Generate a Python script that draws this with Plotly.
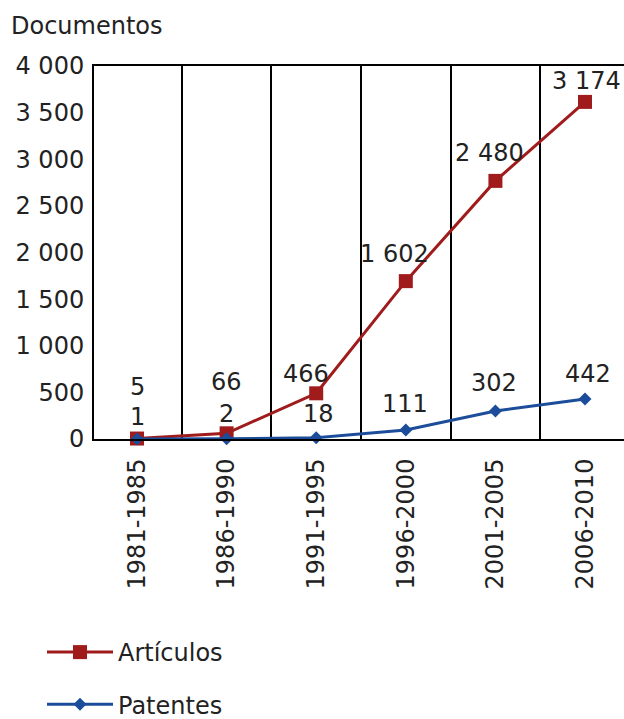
import plotly.graph_objects as go

categories = ["1981-1985", "1986-1990", "1991-1995", "1996-2000", "2001-2005", "2006-2010"]
# values
articulos_pos = [5, 61, 490, 1693, 2768, 3615]
patentes_pos = [1, 2, 14, 96, 300, 429]
# values printed as labels
articulos_lbl = [5, 66, 466, 1602, 2480, 3174]
patentes_lbl = [1, 2, 18, 111, 302, 442]
y_ticks = [0, 500, 1000, 1500, 2000, 2500, 3000, 3500, 4000]

RED = "#a01b1b"
BLUE = "#1c4d9b"
FONT = "DejaVu Sans"
FS = 24


def fmt(v):
    return f"{v:,}".replace(",", " ")


fig = go.Figure()
fig.add_trace(go.Scatter(
    x=categories, y=articulos_pos, name="Artículos", mode="lines+markers",
    line=dict(color=RED, width=3), marker=dict(symbol="square", size=14, color=RED),
    cliponaxis=False, legendgroup="a"))
fig.add_trace(go.Scatter(
    x=categories, y=patentes_pos, name="Patentes", mode="lines+markers",
    line=dict(color=BLUE, width=3), marker=dict(symbol="diamond", size=10, color=BLUE),
    cliponaxis=False, legendgroup="p"))

art_shift = [(0, 52), (0, 51), (-10, 19), (-11, 27), (-6, 28), (1, 21)]
pat_shift = [(0, 22), (0, 25), (2, 24), (-1, 26), (-1, 28), (3, 25)]
for i, c in enumerate(categories):
    fig.add_annotation(x=c, y=articulos_pos[i], text=fmt(articulos_lbl[i]), showarrow=False,
                       xshift=art_shift[i][0], yshift=art_shift[i][1], yanchor="middle",
                       font=dict(family=FONT, size=FS, color="#222"))
    fig.add_annotation(x=c, y=patentes_pos[i], text=fmt(patentes_lbl[i]), showarrow=False,
                       xshift=pat_shift[i][0], yshift=pat_shift[i][1], yanchor="middle",
                       font=dict(family=FONT, size=FS, color="#222"))

fig.update_layout(
    width=624, height=719,
    margin=dict(l=94, r=0, t=66, b=280, autoexpand=False),
    paper_bgcolor="white", plot_bgcolor="white",
    font=dict(family=FONT, size=FS, color="#222"),
    separators=", ",
    title=dict(text="Documentos", x=11/624, xanchor="left", xref="container",
               y=1-26/719, yanchor="middle", yref="container",
               font=dict(family=FONT, size=FS, color="#222")),
    showlegend=True,
    legend=dict(x=42/624, xanchor="left", xref="container", y=1-630/719, yanchor="top",
                yref="container", traceorder="grouped", tracegroupgap=18,
                font=dict(family=FONT, size=FS, color="#222"), itemwidth=66,
                bgcolor="rgba(0,0,0,0)"),
    xaxis=dict(type="category", range=[-0.48, 5.435], tickson="boundaries",
               showgrid=True, gridcolor="black", gridwidth=1.5, automargin=False,
               showline=True, linecolor="black", linewidth=2, mirror=True,
               ticks="", tickangle=-90, ticklabelstandoff=8,
               tickfont=dict(family=FONT, size=FS, color="#222")),
    yaxis=dict(range=[0, 4000], tickvals=y_ticks, separatethousands=True, automargin=False,
               showgrid=False, zeroline=False, showline=True, linecolor="black",
               linewidth=2, ticks="", ticklabelstandoff=3,
               tickfont=dict(family=FONT, size=FS, color="#222")),
)

fig.write_html("out.html")
